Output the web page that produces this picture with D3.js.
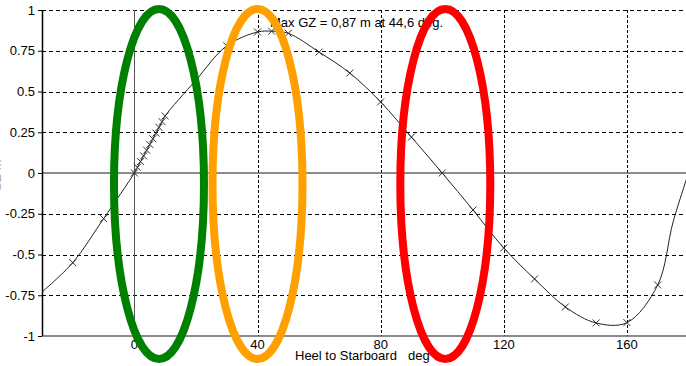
<!DOCTYPE html>
<html>
<head>
<meta charset="utf-8">
<script src="https://cdn.jsdelivr.net/npm/d3@7"></script>
<style>
  body { margin: 0; background: #fff; }
  svg { display: block; font-family: "Liberation Sans", Arial, sans-serif; }
</style>
</head>
<body>
<div id="chart"></div>
<script>
// GZ curve (heel angle in deg, righting lever in m)
const heel = [-30, -20, -10, 0, 1, 2, 3, 4, 5, 6, 7, 8, 9, 10, 20, 30, 40, 44.6, 50, 60, 70, 80, 90, 100, 110, 120, 130, 140, 150, 160, 170, 175, 180];
const gz = [-0.73, -0.55, -0.28, 0, 0.035, 0.07, 0.105, 0.14, 0.175, 0.21, 0.245, 0.28, 0.315, 0.35, 0.57, 0.78, 0.865, 0.87, 0.857, 0.742, 0.613, 0.436, 0.22, 0, -0.227, -0.46, -0.65, -0.822, -0.92, -0.918, -0.687, -0.3, 0];

const xTicks = [0, 40, 80, 120, 160];
const yTicks = [-1, -0.75, -0.5, -0.25, 0, 0.25, 0.5, 0.75, 1];
const yTickLabels = ["-1", "-0.75", "-0.5", "-0.25", "0", "0.25", "0.5", "0.75", "1"];

const title = "Max GZ = 0,87 m at 44,6 deg.";
const xTitle = "Heel to Starboard";
const xUnit = "deg";
const yTitle = "GZ   m";

// highlighted heel ranges (ellipse centres, deg)
const highlightHeel = [8, 40, 101];
const highlightColor = ["#008000", "#ffa000", "#ff0000"];

const width = 686, height = 366;
const margin = { top: 10, right: -2.5, bottom: 30, left: 42 };

const x = d3.scaleLinear().domain([-30, 180]).range([margin.left, width - margin.right]);
const y = d3.scaleLinear().domain([-1, 1]).range([height - margin.bottom, margin.top]);

const svg = d3.select("#chart").append("svg")
  .attr("width", width)
  .attr("height", height);

// Horizontal grid (dashed), except zero and bottom
svg.append("g")
  .selectAll("line")
  .data(yTicks.filter((d) => d !== 0 && d !== -1))
  .join("line")
  .attr("x1", margin.left)
  .attr("x2", width)
  .attr("y1", (d) => Math.round(y(d)) + 0.5)
  .attr("y2", (d) => Math.round(y(d)) + 0.5)
  .attr("stroke", "#000")
  .attr("stroke-dasharray", "4,3");

// Vertical grid (dashed), except zero
svg.append("g")
  .selectAll("line")
  .data(xTicks.filter((d) => d !== 0))
  .join("line")
  .attr("x1", (d) => Math.round(x(d)) + 0.5)
  .attr("x2", (d) => Math.round(x(d)) + 0.5)
  .attr("y1", y(1))
  .attr("y2", y(-1))
  .attr("stroke", "#000")
  .attr("stroke-dasharray", "3,2");

// Zero lines
svg.append("line")
  .attr("x1", margin.left).attr("x2", width)
  .attr("y1", y(0)).attr("y2", y(0))
  .attr("stroke", "#666").attr("stroke-width", 1.5);
svg.append("line")
  .attr("x1", Math.round(x(0)) + 0.5).attr("x2", Math.round(x(0)) + 0.5)
  .attr("y1", y(1)).attr("y2", y(-1) + 6)
  .attr("stroke", "#555").attr("stroke-width", 1);

// Bottom axis line
svg.append("line")
  .attr("x1", margin.left).attr("x2", width)
  .attr("y1", y(-1)).attr("y2", y(-1))
  .attr("stroke", "#666").attr("stroke-width", 1.5);

// Y axis
const gY = svg.append("g")
  .attr("transform", `translate(${margin.left},0)`)
  .call(d3.axisLeft(y).tickValues(yTicks).tickSize(4).tickPadding(3)
    .tickFormat((d, i) => yTickLabels[i]));
gY.select(".domain").attr("stroke", "#000").attr("stroke-width", 1.5)
  .attr("d", `M0.5,${y(1)}V${y(-1)}`);
gY.selectAll(".tick line").attr("stroke", "#000");
gY.selectAll("text").attr("fill", "#000").attr("font-size", 13)
  .attr("font-family", "Liberation Sans, Arial, sans-serif");

// X tick labels
svg.append("g")
  .selectAll("text")
  .data(xTicks)
  .join("text")
  .attr("x", (d) => x(d))
  .attr("y", y(-1) + 13)
  .attr("text-anchor", "middle")
  .attr("font-size", 13)
  .text((d) => d);

// Axis titles
svg.append("text")
  .attr("x", 295).attr("y", 360)
  .attr("font-size", 13)
  .text(xTitle);
svg.append("text")
  .attr("x", 408).attr("y", 360)
  .attr("font-size", 13)
  .text(xUnit);
svg.append("text")
  .attr("transform", "translate(1,192) rotate(-90)")
  .attr("font-size", 13)
  .attr("fill", "#aaa")
  .text(yTitle);

// Title
svg.append("text")
  .attr("x", 270).attr("y", 27)
  .attr("font-size", 13)
  .text(title);

// GZ curve
const points = heel.map((h, i) => ({ heel: h, gz: gz[i] }));
const line = d3.line()
  .x((d) => x(d.heel))
  .y((d) => y(d.gz))
  .curve(d3.curveCatmullRom.alpha(0.5));

svg.append("path")
  .datum(points)
  .attr("fill", "none")
  .attr("stroke", "#222")
  .attr("stroke-width", 1)
  .attr("d", line);

// Markers
const s = 3.5;
svg.append("g")
  .selectAll("path")
  .data(points.filter((d) => d.heel > -30 && d.heel < 175))
  .join("path")
  .attr("transform", (d) => `translate(${x(d.heel)},${y(d.gz)})`)
  .attr("d", `M${-s},${-s}L${s},${s}M${-s},${s}L${s},${-s}`)
  .attr("stroke", "#333")
  .attr("stroke-width", 1)
  .attr("fill", "none");

// Highlight ellipses
svg.append("g")
  .selectAll("ellipse")
  .data(highlightHeel)
  .join("ellipse")
  .attr("cx", (d) => x(d))
  .attr("cy", 184)
  .attr("rx", 45)
  .attr("ry", 175)
  .attr("fill", "none")
  .attr("stroke", (d, i) => highlightColor[i])
  .attr("stroke-width", 8);
</script>
</body>
</html>
